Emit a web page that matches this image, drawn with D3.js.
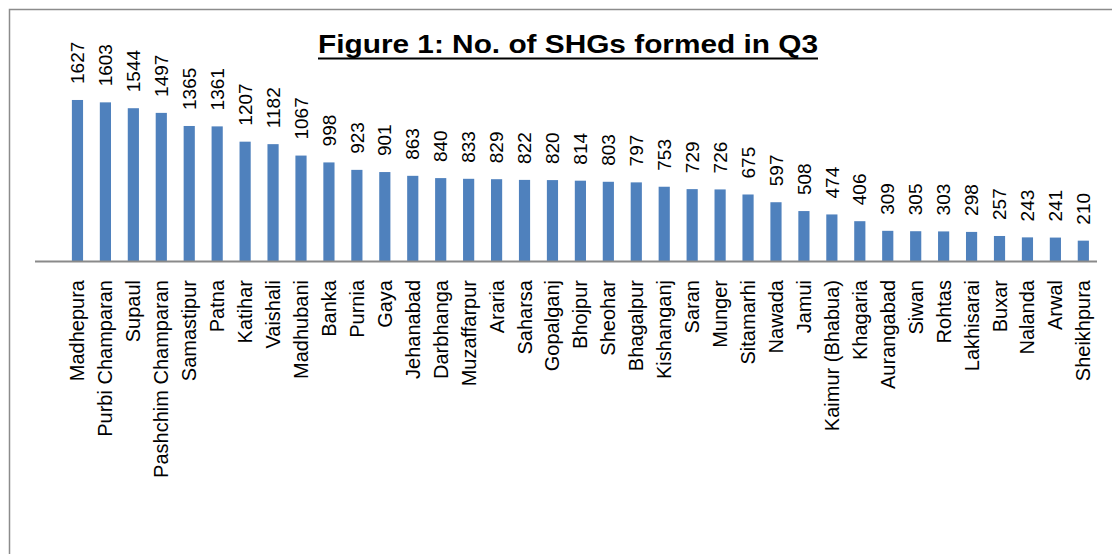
<!DOCTYPE html>
<html>
<head>
<meta charset="utf-8">
<script src="https://cdn.jsdelivr.net/npm/d3@7"></script>
<style>
  body { margin: 0; background: #fff; }
  svg { display: block; font-family: "Liberation Sans", Arial, sans-serif; }
</style>
</head>
<body>
<svg id="chart"></svg>
<script>
// districts and no. of SHGs formed in Q3
const districts = [
  "Madhepura", "Purbi Champaran", "Supaul", "Pashchim Champaran", "Samastipur",
  "Patna", "Katihar", "Vaishali", "Madhubani", "Banka", "Purnia", "Gaya",
  "Jehanabad", "Darbhanga", "Muzaffarpur", "Araria", "Saharsa", "Gopalganj",
  "Bhojpur", "Sheohar", "Bhagalpur", "Kishanganj", "Saran", "Munger",
  "Sitamarhi", "Nawada", "Jamui", "Kaimur (Bhabua)", "Khagaria", "Aurangabad",
  "Siwan", "Rohtas", "Lakhisarai", "Buxar", "Nalanda", "Arwal", "Sheikhpura"
];
const shgCounts = [
  1627, 1603, 1544, 1497, 1365, 1361, 1207, 1182, 1067, 998, 923, 901,
  863, 840, 833, 829, 822, 820, 814, 803, 797, 753, 729, 726,
  675, 597, 508, 474, 406, 309, 305, 303, 298, 257, 243, 241, 210
];
const titleText = "Figure 1: No. of SHGs formed in Q3";

const data = districts.map((d, i) => ({ name: d, value: shgCounts[i] }));

let width = 1112;
let height = 554;
let baseY = 261.5; // where the category axis sits

let svg = d3.select("#chart").attr("width", width).attr("height", height);

// outer frame (runs off the right / bottom like the original crop)
svg.append("rect")
  .attr("x", 9.5).attr("y", 9.5)
  .attr("width", 1120).attr("height", 570)
  .attr("fill", "none")
  .attr("stroke", "#8c8c8c")
  .attr("stroke-width", 1.5);

let xScale = d3.scaleBand()
  .domain(districts)
  .range([63.5, 1097.3])
  .paddingInner(0.6)
  .paddingOuter(0.3);

let yScale = d3.scaleLinear()
  .domain([0, 1800])
  .range([baseY, 82.8]);

// title
let title = svg.append("text")
  .attr("x", 318)
  .attr("y", 53)
  .attr("font-size", 25)
  .attr("font-weight", "bold")
  .attr("textLength", 500)
  .attr("lengthAdjust", "spacingAndGlyphs")
  .attr("fill", "#000")
  .text(titleText);

svg.append("line")
  .attr("x1", 318).attr("x2", 818)
  .attr("y1", 58.5).attr("y2", 58.5)
  .attr("stroke", "#000")
  .attr("stroke-width", 2);

// bars
svg.selectAll("rect.bar")
  .data(data)
  .enter()
  .append("rect")
  .attr("class", "bar")
  .attr("x", (d) => xScale(d.name))
  .attr("width", xScale.bandwidth())
  .attr("y", (d) => yScale(d.value))
  .attr("height", (d) => baseY - yScale(d.value))
  .attr("fill", "#4f81bd");

// value labels, rotated
svg.selectAll("text.val")
  .data(data)
  .enter()
  .append("text")
  .attr("class", "val")
  .attr("font-size", 19)
  .attr("fill", "#000")
  .attr("transform", (d) => {
    let cx = xScale(d.name) + xScale.bandwidth() / 2;
    let y = yScale(d.value) - 16;
    return "translate(" + cx + "," + y + ") rotate(-90)";
  })
  .attr("dy", "0.35em")
  .attr("text-anchor", "start")
  .text((d) => d.value);

// axis line (drawn with d3 axis, ticks hidden)
let xAxis = d3.axisBottom(xScale).tickSize(0).tickPadding(0);
let axisG = svg.append("g")
  .attr("transform", "translate(0," + baseY + ")")
  .call(xAxis);
axisG.select(".domain").remove();
axisG.append("line")
  .attr("x1", 35).attr("x2", 1097)
  .attr("y1", 0).attr("y2", 0)
  .attr("stroke", "#8a8a8a")
  .attr("stroke-width", 2);

axisG.selectAll(".tick text")
  .attr("font-size", 20)
  .attr("font-family", "'Liberation Sans', Arial, sans-serif")
  .attr("fill", "#000")
  .attr("text-anchor", "end")
  .attr("transform", "translate(0,18.5) rotate(-90)")
  .attr("x", 0)
  .attr("y", 0)
  .attr("dy", "0.35em");
</script>
</body>
</html>
